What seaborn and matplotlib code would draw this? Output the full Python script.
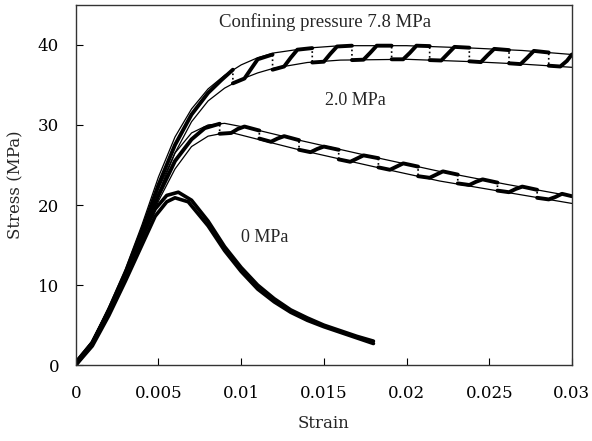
import numpy as np
import pandas as pd
import matplotlib
matplotlib.use("Agg")
import matplotlib.pyplot as plt
import seaborn as sns

sns.set_style("ticks")
plt.rcParams['font.family'] = ['DejaVu Serif']

# thin envelope curves (strain, stress MPa)
s78_up_x = [0, 0.001, 0.002, 0.003, 0.004, 0.005, 0.006, 0.007, 0.008, 0.009, 0.010, 0.011, 0.012, 0.014, 0.016, 0.020, 0.024, 0.027, 0.030]
s78_up_y = [0, 3.0, 7.3, 12.0, 17.5, 23.5, 28.5, 32.0, 34.5, 36.2, 37.5, 38.4, 39.0, 39.6, 39.9, 39.9, 39.6, 39.3, 38.8]
s78_lo_x = [0, 0.001, 0.002, 0.003, 0.004, 0.005, 0.006, 0.007, 0.008, 0.009, 0.010, 0.011, 0.012, 0.014, 0.016, 0.020, 0.024, 0.027, 0.030]
s78_lo_y = [0, 2.6, 6.5, 11.0, 16.0, 21.5, 26.5, 30.4, 33.0, 34.6, 35.7, 36.5, 37.1, 37.8, 38.1, 38.2, 37.9, 37.6, 37.2]

s20_up_x = [0, 0.001, 0.002, 0.003, 0.004, 0.005, 0.006, 0.007, 0.008, 0.009, 0.0105, 0.0135, 0.018, 0.022, 0.026, 0.030]
s20_up_y = [0, 3.0, 7.0, 11.5, 16.5, 22.0, 26.5, 29.0, 30.0, 30.2, 29.6, 28.1, 26.0, 24.2, 22.6, 21.1]
s20_lo_x = [0, 0.001, 0.002, 0.003, 0.004, 0.005, 0.006, 0.007, 0.008, 0.009, 0.0095, 0.0135, 0.018, 0.022, 0.026, 0.030]
s20_lo_y = [0, 2.6, 6.4, 10.8, 15.5, 20.5, 24.5, 27.3, 28.6, 29.0, 29.0, 26.9, 24.8, 23.0, 21.6, 20.2]

s0_up_x = [0, 0.001, 0.002, 0.003, 0.004, 0.0048, 0.0055, 0.0062, 0.007, 0.008, 0.009, 0.010, 0.011, 0.012, 0.013, 0.014, 0.015, 0.016, 0.017, 0.018]
s0_up_y = [0, 2.8, 6.8, 11.2, 16.0, 19.5, 21.2, 21.6, 20.6, 18.0, 14.8, 12.2, 10.0, 8.3, 6.9, 5.9, 5.0, 4.3, 3.6, 3.0]
s0_lo_x = [0, 0.001, 0.002, 0.003, 0.004, 0.0048, 0.0055, 0.006, 0.0068, 0.008, 0.009, 0.010, 0.011, 0.012, 0.013, 0.014, 0.015, 0.016, 0.017, 0.018]
s0_lo_y = [0, 2.4, 6.2, 10.5, 15.0, 18.6, 20.4, 20.9, 20.4, 17.4, 14.3, 11.7, 9.5, 7.9, 6.6, 5.6, 4.8, 4.1, 3.4, 2.7]

# cyclic (stepped) test records
c78_x = [0, 0.001, 0.002, 0.003, 0.004, 0.005, 0.006, 0.007, 0.008, 0.0088, 0.0095,
         0.0095, 0.0102, 0.0106, 0.0110, 0.0119,
         0.0119, 0.0126, 0.0130, 0.0134, 0.0143,
         0.0143, 0.0150, 0.0154, 0.0158, 0.0167,
         0.0167, 0.0174, 0.0178, 0.0182, 0.0191,
         0.0191, 0.0198, 0.0202, 0.0206, 0.0214,
         0.0214, 0.0221, 0.0225, 0.0229, 0.0238,
         0.0238, 0.0245, 0.0249, 0.0253, 0.0262,
         0.0262, 0.0269, 0.0273, 0.0277, 0.0286,
         0.0286, 0.0293, 0.0297, 0.0300]
c78_y = [0.3, 2.8, 6.9, 11.5, 16.8, 22.5, 27.5, 31.3, 34.0, 35.6, 36.9,
         35.2, 35.8, 37.0, 38.2, 38.8,
         36.9, 37.3, 38.4, 39.4, 39.6,
         37.8, 37.9, 38.9, 39.8, 39.9,
         38.1, 38.15, 39.0, 39.9, 39.9,
         38.2, 38.2, 39.0, 39.9, 39.85,
         38.1, 38.05, 38.9, 39.75, 39.65,
         37.95, 37.85, 38.7, 39.5, 39.35,
         37.7, 37.6, 38.4, 39.25, 39.05,
         37.4, 37.3, 38.0, 38.8]

c20_x = [0, 0.001, 0.002, 0.003, 0.004, 0.005, 0.006, 0.007, 0.0078, 0.0087,
         0.0087, 0.0094, 0.0098, 0.0102, 0.0111,
         0.0111, 0.0118, 0.0122, 0.0126, 0.0135,
         0.0135, 0.0142, 0.0146, 0.0150, 0.0159,
         0.0159, 0.0166, 0.0170, 0.0174, 0.0183,
         0.0183, 0.0190, 0.0194, 0.0198, 0.0207,
         0.0207, 0.0214, 0.0218, 0.0222, 0.0231,
         0.0231, 0.0238, 0.0242, 0.0246, 0.0255,
         0.0255, 0.0262, 0.0266, 0.0270, 0.0279,
         0.0279, 0.0286, 0.0290, 0.0294, 0.0300]
c20_y = [0.3, 2.8, 6.7, 11.1, 16.0, 21.2, 25.5, 28.2, 29.6, 30.15,
         28.9, 29.0, 29.5, 29.8, 29.3,
         28.3, 27.9, 28.3, 28.6, 28.1,
         26.9, 26.6, 27.0, 27.3, 26.9,
         25.7, 25.4, 25.8, 26.2, 25.85,
         24.7, 24.4, 24.8, 25.2, 24.8,
         23.6, 23.4, 23.8, 24.2, 23.8,
         22.7, 22.5, 22.9, 23.2, 22.8,
         21.8, 21.6, 22.0, 22.3, 21.9,
         20.9, 20.7, 21.0, 21.4, 21.1]


def stepped(xs, ys, name):
    df = pd.DataFrame({'Strain': xs, 'Stress': ys})
    # a new piece starts wherever the record drops at constant strain
    df['seg'] = (df['Strain'].diff() == 0).cumsum()
    df['curve'] = name
    return df


fig = plt.figure(figsize=(5.92, 4.41), dpi=100)
ax = fig.add_axes([0.128, 0.172, 0.838, 0.817])

envelopes = [(s78_up_x, s78_up_y), (s78_lo_x, s78_lo_y),
             (s20_up_x, s20_up_y), (s20_lo_x, s20_lo_y)]
for xs, ys in envelopes:
    sns.lineplot(x=xs, y=ys, ax=ax, color='black', lw=0.9, sort=False, estimator=None)

for xs, ys in [(s0_up_x, s0_up_y), (s0_lo_x, s0_lo_y)]:
    sns.lineplot(x=xs, y=ys, ax=ax, color='black', lw=2.6, sort=False, estimator=None)

for xs, ys, name in [(c78_x, c78_y, '7.8'), (c20_x, c20_y, '2.0')]:
    df = stepped(xs, ys, name)
    sns.lineplot(data=df, x='Strain', y='Stress', units='seg', estimator=None,
                 sort=False, ax=ax, color='black', lw=2.8)
    sns.lineplot(data=df, x='Strain', y='Stress', estimator=None, sort=False,
                 ax=ax, color='black', lw=1.2, ls=':')

ax.set_xlim(0, 0.03)
ax.set_ylim(0, 45)
ax.set_xticks([0, 0.005, 0.01, 0.015, 0.02, 0.025, 0.03])
ax.set_xticklabels(['0', '0.005', '0.01', '0.015', '0.02', '0.025', '0.03'])
ax.set_yticks([0, 10, 20, 30, 40])
ax.tick_params(direction='in', length=5, labelsize=12, pad=12, colors='black')
ax.tick_params(axis='x', pad=14)
for sp in ax.spines.values():
    sp.set_color('#333333')
    sp.set_linewidth(1.0)
ax.set_xlabel('Strain', fontsize=12, labelpad=10)
ax.set_ylabel('Stress (MPa)', fontsize=12, labelpad=10)

ax.text(0.0151, 42.9, 'Confining pressure 7.8 MPa', ha='center', va='center',
        fontsize=13.5, family=['Liberation Serif'])
ax.text(0.0169, 33.1, '2.0 MPa', ha='center', va='center', fontsize=13, family=['Liberation Serif'])
ax.text(0.0114, 16.0, '0 MPa', ha='center', va='center', fontsize=13, family=['Liberation Serif'])

fig.savefig('out.png', dpi=100)
